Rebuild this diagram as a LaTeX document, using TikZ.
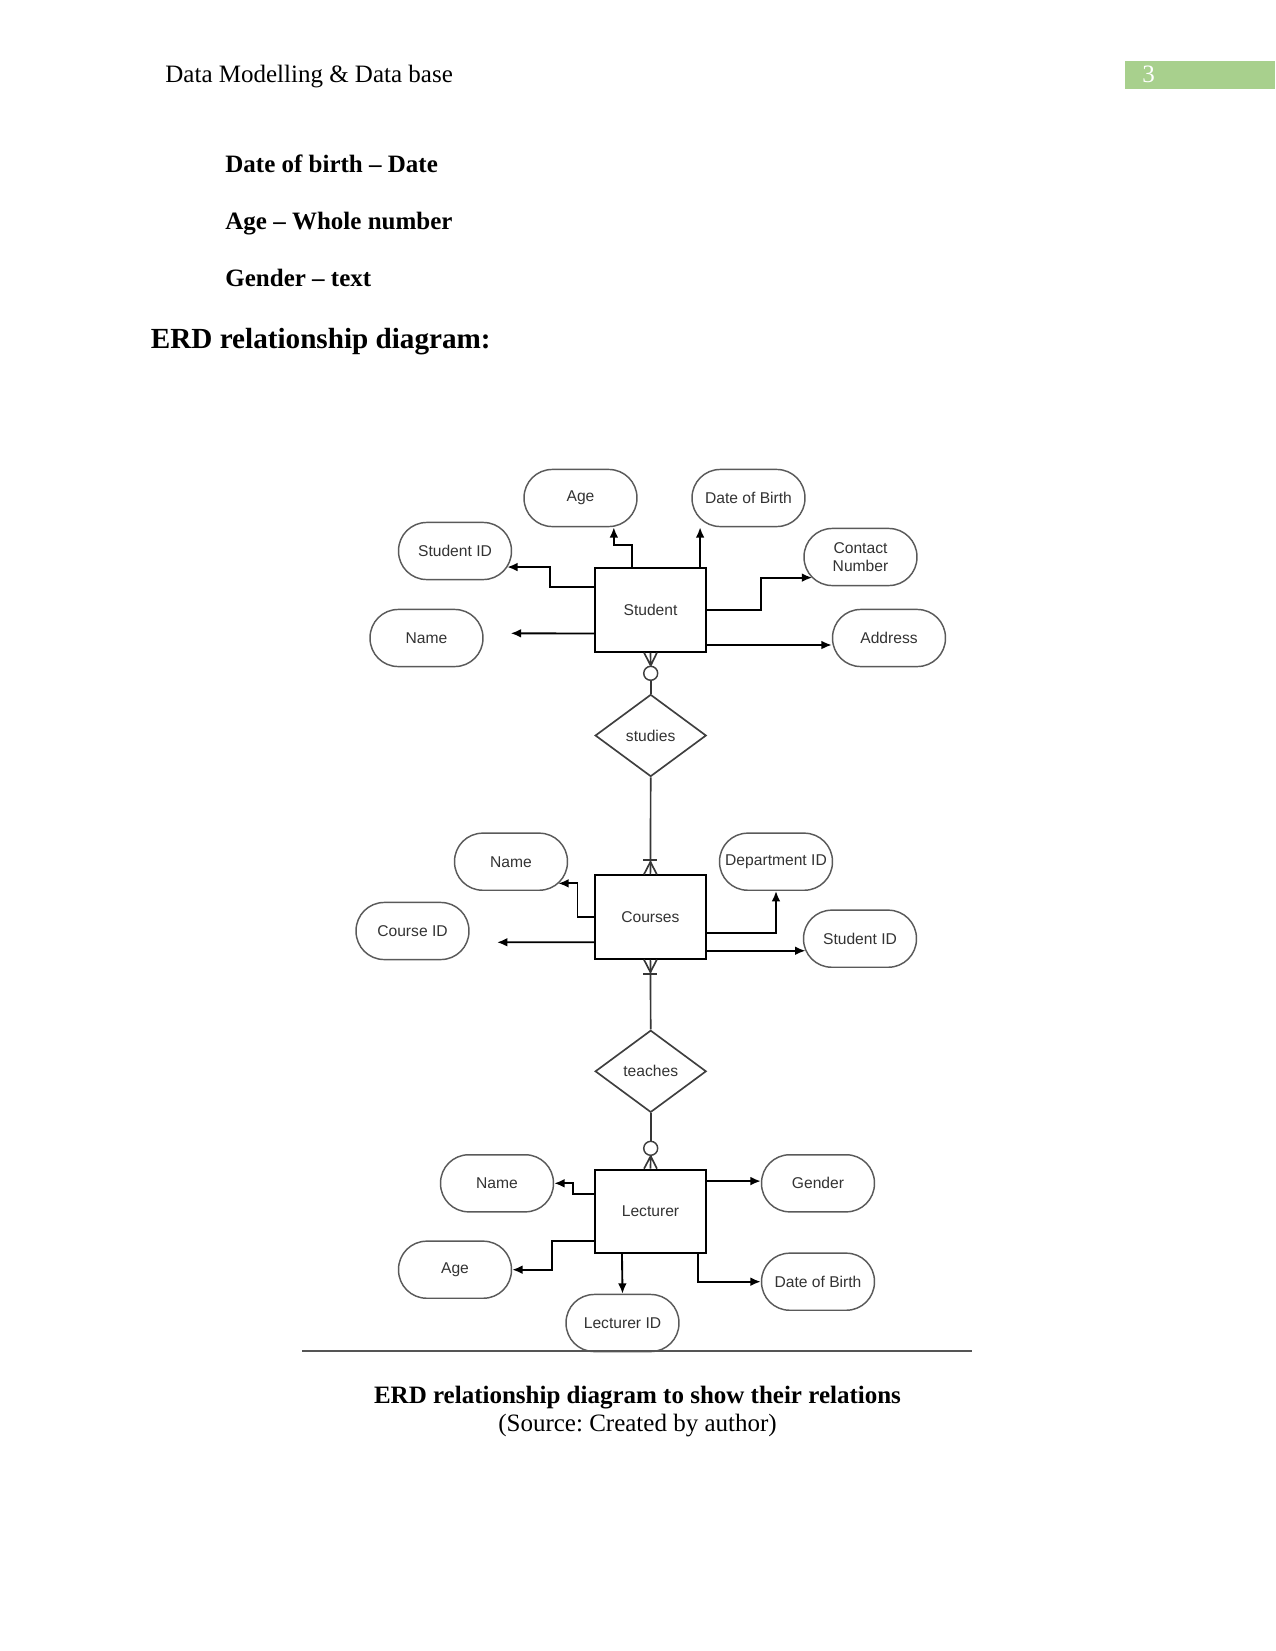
\documentclass[tikz,border=0pt]{standalone}
\usepackage{fontspec}
\setmainfont{Liberation Serif}
\setsansfont{Liberation Sans}
\usepackage{tikz}
\usetikzlibrary{positioning, arrows.meta, shapes.geometric}
\frenchspacing
\definecolor{HeadGreen}{RGB}{168,208,141}
\definecolor{InkGrey}{RGB}{51,51,51}
\definecolor{EdgeGrey}{RGB}{90,90,90}
\definecolor{RuleGrey}{RGB}{85,85,85}
\tikzset{
  entity/.style={draw=black, line width=0.9pt, fill=white, minimum width=53.3pt, minimum height=40pt,
    inner sep=1pt, font=\sffamily\fontsize{7.5}{8.6}\selectfont, text=InkGrey},
  attrib/.style={draw=EdgeGrey, line width=0.7pt, fill=white, rounded corners=13.5pt, minimum width=54.2pt,
    minimum height=27.4pt, inner sep=1pt, align=center, font=\sffamily\fontsize{7.5}{8.6}\selectfont, text=InkGrey},
  relship/.style={diamond, draw=EdgeGrey!70!black, line width=0.8pt, fill=white, minimum width=53.3pt,
    minimum height=39.4pt, inner sep=0pt, font=\sffamily\fontsize{7.5}{8.6}\selectfont, text=InkGrey},
  zero/.style={circle, draw=EdgeGrey!70!black, line width=0.7pt, fill=white, minimum size=6.7pt, inner sep=0pt},
  link/.style={-{Latex[length=5pt,width=4.2pt]}, line width=0.9pt, black},
  relline/.style={line width=0.8pt, EdgeGrey!60!black},
  bodytxt/.style={font=\fontsize{12}{14}\selectfont, inner sep=0pt},
}

\begin{document}
\begin{tikzpicture}[x=0.48pt, y=-0.48pt]
  \useasboundingbox (0,0) rectangle (1275,1651);
  % page header
  \node[bodytxt, anchor=base west] (hdr) at (165,83) {Data Modelling \& Data base};
  \fill[HeadGreen] (1125,61) rectangle (1275,89);
  \node[bodytxt, anchor=base west, text=white] (pgno) at (1142,82.5) {3};
  % text above the diagram
  \node[bodytxt, anchor=base west] (t1) at (225,172.5) {\textbf{Date of birth -- Date}};
  \node[bodytxt, anchor=base west] (t2) at (225,229.5) {\textbf{Age -- Whole number}};
  \node[bodytxt, anchor=base west] (t3) at (225,286.5) {\textbf{Gender -- text}};
  \node[font=\fontsize{14}{16}\selectfont\bfseries, inner sep=0pt, anchor=base west] (ttl) at (150.5,348.3) {ERD relationship diagram:};

  % entities and relationships
  \node[entity] (stu) at (650.5,610) {Student};
  \node[relship] (studies) at (650.7,735.5) {studies};
  \node[entity] (crs) at (650.4,917) {Courses};
  \node[relship] (teaches) at (650.7,1071.3) {teaches};
  \node[entity] (lec) at (650.5,1211.3) {Lecturer};
  \node[zero] (zc1) at (650.7,673.3) {};
  \node[zero] (zc2) at (650.7,1148.3) {};

  % attributes
  \foreach \nm/\px/\py/\txt in {sage/580.5/498/Age, sdob/748.5/498/Date of Birth, ssid/455/551/Student ID,
      scon/860.5/557/{Contact\\Number}, sname/426.5/638/Name, saddr/889/638/Address,
      cname/511/861.7/Name, cdept/776/861.7/Department ID, ccid/412.5/931/Course ID, csid/860/938.7/Student ID,
      lname/497/1183.3/Name, lage/455/1269.7/Age, lid/622.5/1323/Lecturer ID, lgen/818/1183.3/Gender,
      ldob/818/1281.7/Date of Birth}
    \node[attrib] (\nm) at (\px,\py) {\txt};
  \coordinate (snameend) at (510.7,633.3);
  \coordinate (ccidend) at (497,942.3);

  % Student attributes
  \draw[link] ([yshift=11pt]stu.west) -- ++(-44,0) |- ([xshift=-2.4pt,yshift=-7.7pt]ssid.east);
  \draw[link] ([xshift=-8.7pt]stu.north) -- ++(0,-22) -| ([xshift=16pt]sage.south);
  \draw[link] ([xshift=23.8pt]stu.north) -- ([xshift=23.8pt]stu.north |- sdob.south);
  \draw[link] (stu.east) -- ++(54,0) |- ([xshift=4.3pt,yshift=-9.9pt]scon.west);
  \draw[link] ([yshift=-11.3pt]stu.west) -- (snameend);
  \draw[link] ([yshift=-16.8pt]stu.east) -- ([yshift=-16.8pt]stu.east -| saddr.west);

  % Courses attributes
  \draw[link] (crs.west) -- ++(-16.5,0) |- ([xshift=-4.8pt,yshift=-10.4pt]cname.east);
  \draw[link] ([yshift=-12.1pt]crs.west) -- (ccidend);
  \draw[link] ([yshift=-7.8pt]crs.east) -| (cdept.south);
  \draw[link] ([yshift=-16.2pt]crs.east) -- ([xshift=1.3pt,yshift=-16.2pt]crs.east -| csid.west);

  % Lecturer attributes
  \draw[link] ([yshift=8.3pt]lec.west) -- ++(-20.7,0) |- (lname.east);
  \draw[link] ([yshift=-14.1pt]lec.west) -- ++(-42.3,0) |- (lage.east);
  \draw[link] ([xshift=-13.7pt]lec.south) -- (lid.north);
  \draw[link] ([yshift=14.5pt]lec.east) -- ([yshift=14.5pt]lec.east -| lgen.west);
  \draw[link] ([xshift=22.9pt]lec.south) |- (ldob.west);

  % Student -- studies: zero or many
  \draw[relline] (zc1.north) -- ([xshift=-3.1pt]stu.south) (zc1.north) -- (stu.south)
    (zc1.north) -- ([xshift=3.1pt]stu.south);
  \draw[relline] (zc1.south) -- (studies.north);
  % studies -- Courses: one or many
  \draw[relline] (studies.south) -- (crs.north);
  \draw[relline] ([yshift=6pt]crs.north) -- ([xshift=-3.1pt]crs.north)
    ([yshift=6pt]crs.north) -- ([xshift=3.1pt]crs.north);
  \draw[relline] ([xshift=-3.4pt,yshift=6.8pt]crs.north) -- ([xshift=3.4pt,yshift=6.8pt]crs.north);
  % Courses -- teaches: one or many
  \draw[relline] (crs.south) -- (teaches.north);
  \draw[relline] ([yshift=-6pt]crs.south) -- ([xshift=-3.1pt]crs.south)
    ([yshift=-6pt]crs.south) -- ([xshift=3.1pt]crs.south);
  \draw[relline] ([xshift=-3.4pt,yshift=-6.8pt]crs.south) -- ([xshift=3.4pt,yshift=-6.8pt]crs.south);
  % teaches -- Lecturer: zero or many
  \draw[relline] (teaches.south) -- (zc2.north);
  \draw[relline] (zc2.south) -- ([xshift=-3.1pt]lec.north) (zc2.south) -- (lec.north)
    (zc2.south) -- ([xshift=3.1pt]lec.north);

  % rule and caption
  \draw[RuleGrey, line width=1pt] (302,1350.7) -- (972,1350.7);
  \node[bodytxt, anchor=base] (cap1) at (637.5,1403.3) {\textbf{ERD relationship diagram to show their relations}};
  \node[bodytxt, anchor=base] (cap2) at (637.5,1431.7) {(Source: Created by author)};
\end{tikzpicture}
\end{document}
